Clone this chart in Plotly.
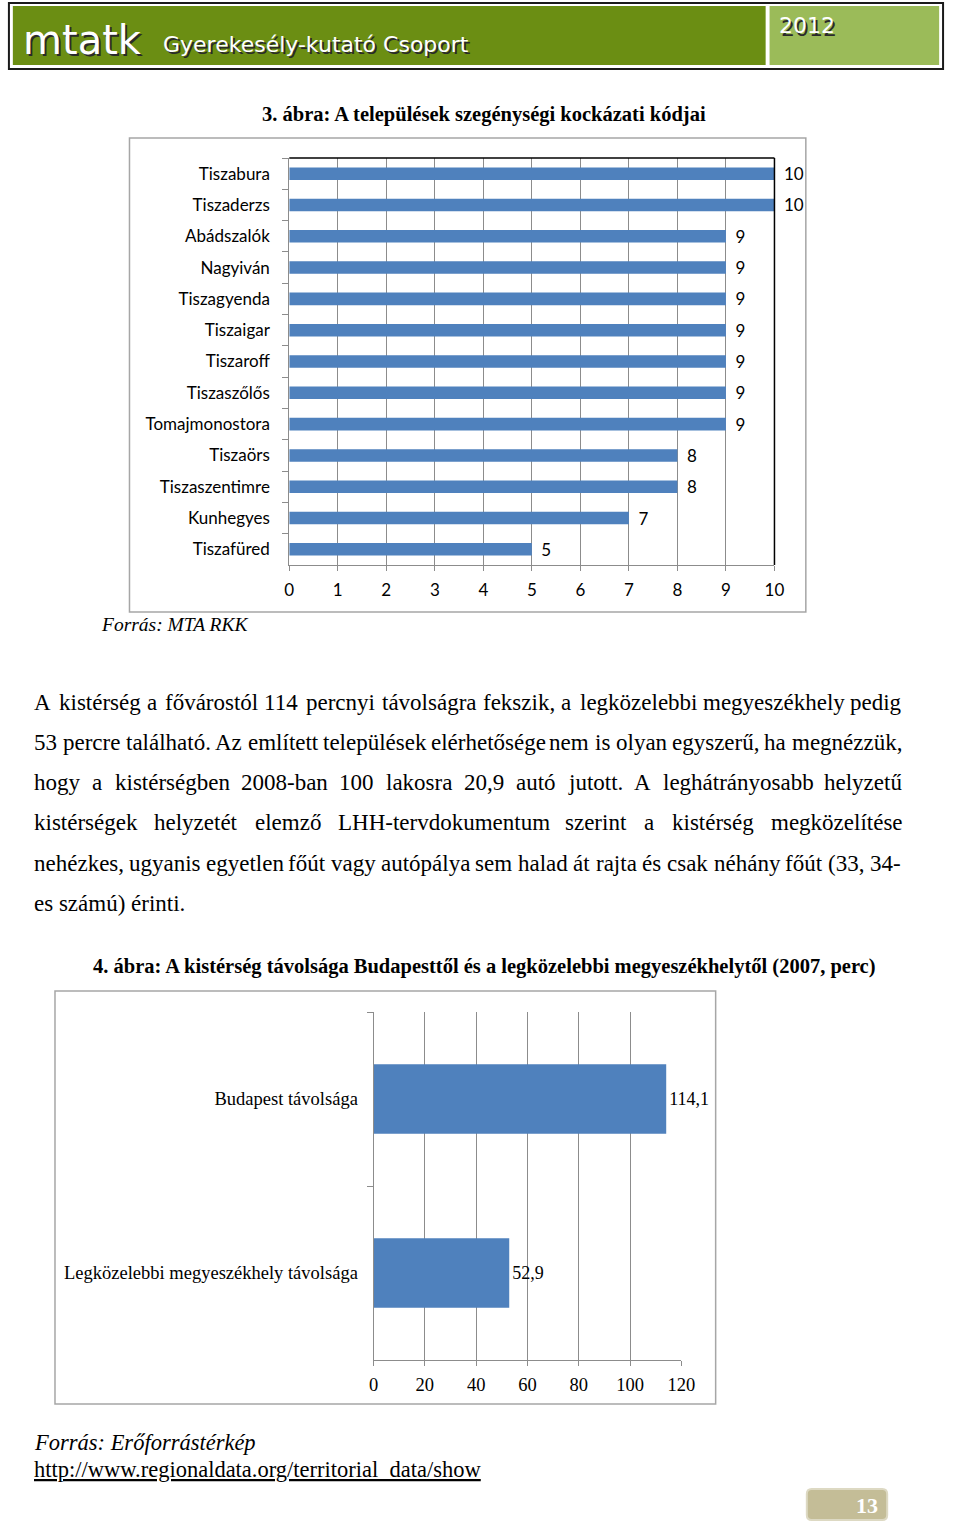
import unicodedata
import plotly.graph_objects as go

W, H = 960, 1522

# ---------------- data ----------------
towns = ["Tiszabura", "Tiszaderzs", "Abádszalók", "Nagyiván", "Tiszagyenda", "Tiszaigar",
         "Tiszaroff", "Tiszaszőlős", "Tomajmonostora", "Tiszaörs", "Tiszaszentimre",
         "Kunhegyes", "Tiszafüred"]
risk_codes = [10, 10, 9, 9, 9, 9, 9, 9, 9, 8, 8, 7, 5]
code_ticks = list(range(0, 11))

dist_labels = ["Budapest távolsága", "Legközelebbi megyeszékhely távolsága"]
dist_values = [114.1, 52.9]
dist_ticks = [0, 20, 40, 60, 80, 100, 120]

paragraph_lines = [
    "A kistérség a fővárostól 114 percnyi távolságra fekszik, a legközelebbi megyeszékhely pedig",
    "53 percre található. Az említett települések elérhetősége nem is olyan egyszerű, ha megnézzük,",
    "hogy a kistérségben 2008-ban 100 lakosra 20,9 autó jutott. A leghátrányosabb helyzetű",
    "kistérségek helyzetét elemző LHH-tervdokumentum szerint a kistérség megközelítése",
    "nehézkes, ugyanis egyetlen főút vagy autópálya sem halad át rajta és csak néhány főút (33, 34-",
    "es számú) érinti.",
]

BLUE = "#4F81BD"
GRID = "#8C8C8C"
BOX = "#A6A6A6"
SERIF = "Liberation Serif"
SANS = "Lato"
PAD = "\u00a0\u2009"


def px(x):
    return x / W


def py(y):
    return 1 - y / H


fig = go.Figure()

# ---------------- chart 1 ----------------
fig.add_trace(go.Bar(
    x=risk_codes, y=towns, orientation="h", marker=dict(color=BLUE, line=dict(width=0)),
    text=[PAD + str(v) for v in risk_codes], textposition="outside", cliponaxis=False,
    constraintext="none",
    textfont=dict(family=SANS, size=17, color="#000"),
    xaxis="x", yaxis="y", showlegend=False, hoverinfo="skip",
))

# ---------------- chart 2 ----------------
fig.add_trace(go.Bar(
    x=dist_values, y=dist_labels, orientation="h", marker=dict(color=BLUE, line=dict(width=0)),
    text=[f"{v:.1f}".replace(".", ",") for v in dist_values], textposition="outside",
    cliponaxis=False, constraintext="none", textfont=dict(family=SERIF, size=18, color="#000"),
    xaxis="x2", yaxis="y2", showlegend=False, hoverinfo="skip",
))

fig.update_layout(
    width=W, height=H, autosize=False, margin=dict(l=0, r=0, t=0, b=0, pad=0),
    paper_bgcolor="white", plot_bgcolor="white", bargap=0.6,
    xaxis=dict(domain=[px(290), px(785)], range=[0, 10], tickvals=code_ticks,
               showgrid=True, gridcolor=GRID, gridwidth=1, zeroline=False,
               showline=True, linecolor=GRID, linewidth=1, ticks="outside", ticklen=5,
               tickcolor=GRID, tickfont=dict(family=SANS, size=17, color="#000"),
               ticklabelstandoff=5, anchor="y", fixedrange=True),
    yaxis=dict(domain=[py(565), py(158)], autorange="reversed", type="category",
               showgrid=False, showline=True, linecolor=GRID, linewidth=1,
               ticks="outside", tickson="boundaries", ticklen=6, tickcolor=GRID,
               tickfont=dict(family=SANS, size=17, color="#000"), ticklabelstandoff=15,
               anchor="x", fixedrange=True),
    xaxis2=dict(domain=[px(376), px(690)], range=[0, 120], tickvals=dist_ticks,
                showgrid=True, gridcolor=GRID, gridwidth=1, zeroline=False,
                showline=True, linecolor=GRID, linewidth=1, ticks="outside", ticklen=5,
                tickcolor=GRID, tickfont=dict(family=SERIF, size=18.5, color="#000"),
                ticklabelstandoff=3, anchor="y2", fixedrange=True),
    yaxis2=dict(domain=[py(1360), py(1012)], autorange="reversed", type="category",
                showgrid=False, showline=True, linecolor=GRID, linewidth=1,
                ticks="outside", tickson="boundaries", ticklen=6, tickcolor=GRID,
                tickfont=dict(family=SERIF, size=18.5, color="#000"), ticklabelstandoff=11,
                anchor="x2", fixedrange=True),
)

shapes = []


def rect(x0, y0, x1, y1, **kw):
    shapes.append(dict(type="rect", xref="paper", yref="paper",
                       x0=px(x0), x1=px(x1), y0=py(y1), y1=py(y0), **kw))


def line(x0, y0, x1, y1, color, width=1):
    shapes.append(dict(type="line", xref="paper", yref="paper",
                       x0=px(x0), x1=px(x1), y0=py(y0), y1=py(y1),
                       line=dict(color=color, width=width)))


# header
rect(4, 3, 957, 69, line=dict(color="#1a1a1a", width=2), fillcolor="white", layer="below")
rect(8, 6, 776, 65, line=dict(width=0), fillcolor="#6B8E13", layer="below")
rect(780, 6, 953, 65, line=dict(width=0), fillcolor="#9BBB59", layer="below")

# chart boxes
rect(127, 138, 817, 612, line=dict(color=BOX, width=1.5), fillcolor="rgba(0,0,0,0)", layer="below")
rect(51, 991, 725, 1404, line=dict(color=BOX, width=1.5), fillcolor="rgba(0,0,0,0)", layer="below")
# black top/right border of chart 1 plot area
line(290, 158, 785, 158, "#000", 1.5)
line(785, 158, 785, 565, "#000", 1.5)


# page number box (rounded)
def pth(xp, yp):
    return f"{px(xp)},{py(yp)}"


x0, y0, x1, y1, r = 818, 1489, 900, 1520, 5
path = (f"M {pth(x0+r,y0)} L {pth(x1-r,y0)} Q {pth(x1,y0)} {pth(x1,y0+r)} L {pth(x1,y1-r)} "
        f"Q {pth(x1,y1)} {pth(x1-r,y1)} L {pth(x0+r,y1)} Q {pth(x0,y1)} {pth(x0,y1-r)} "
        f"L {pth(x0,y0+r)} Q {pth(x0,y0)} {pth(x0+r,y0)} Z")
shapes.append(dict(type="path", xref="paper", yref="paper", path=path,
                   fillcolor="#C4BD97", line=dict(color="#DDD9C3", width=2)))

fig.update_layout(shapes=shapes)

ann = []


def text(x, y, s, size, family=SERIF, color="#000", xanchor="left", bold=False,
         italic=False):
    if bold:
        s = f"<b>{s}</b>"
    if italic:
        s = f"<i>{s}</i>"
    ann.append(dict(x=px(x), y=py(y), xref="paper", yref="paper", text=s, showarrow=False,
                    xanchor=xanchor, yanchor="middle", borderpad=0, borderwidth=0,
                    font=dict(family=family, size=size, color=color)))


# header texts (with shadow)
for dx, col in [(2, "#2a2a2a"), (0, "white")]:
    text(18 + dx, 40 + dx, "mtatk", 40, family="DejaVu Sans", color=col)
    text(161 + dx, 45 + dx, "Gyerekesély-kutató Csoport", 22, family="DejaVu Sans", color=col)
    text(790 + dx, 26 + dx, "2012", 22, family="DejaVu Sans", color=col)

# titles
text(489, 114, "3. ábra: A települések szegénységi kockázati kódjai", 20.5, xanchor="center", bold=True)
text(489, 967, "4. ábra: A kistérség távolsága Budapesttől és a legközelebbi megyeszékhelytől (2007, perc)",
     20.5, xanchor="center", bold=True)
text(98, 625, "Forrás: MTA RKK", 19.5, italic=True)

# justified paragraph (Times metrics)
TW = dict(a=444, b=500, c=444, d=500, e=444, f=333, g=500, h=500, i=278, j=278, k=500, l=278,
          m=778, n=500, o=500, p=500, q=500, r=333, s=389, t=278, u=500, v=500, w=722, x=500,
          y=500, z=444, A=722, B=667, C=667, D=722, E=611, F=556, G=722, H=722, I=333, J=389,
          K=722, L=611, M=889, N=722, O=722, P=556, Q=722, R=667, S=556, T=611, U=722, V=722,
          W=944, X=722, Y=722, Z=611)
TW.update({",": 250, ".": 250, "-": 333, "(": 333, ")": 333, ":": 278, " ": 250})


def tw(s, size):
    tot = 0
    for ch in s:
        base = unicodedata.normalize("NFD", ch)[0]
        tot += TW.get(base, 500)
    return tot * size / 1000


PSIZE = 23
LX0, LX1 = 30, 913
for i, ln in enumerate(paragraph_lines):
    yy = 703 + 40 * i
    words = ln.split(" ")
    if i == len(paragraph_lines) - 1:
        text(LX0, yy, ln, PSIZE)
        continue
    widths = [tw(w_, PSIZE) for w_ in words]
    gap = (LX1 - LX0 - sum(widths)) / (len(words) - 1)
    gap = max(gap, 4)
    xx = LX0
    for w_, ww in zip(words, widths):
        text(xx, yy, w_, PSIZE)
        xx += ww + gap

# footer
text(30, 1442, "Forrás: Erőforrástérkép", 22.5, italic=True)
text(30, 1469, "<u>http://www.regionaldata.org/territorial_data/show</u>", 22.5)
text(891, 1505, "13", 22, color="white", xanchor="right", bold=True)

fig.update_layout(annotations=ann)
fig.write_html("out.html", config={"responsive": False})
